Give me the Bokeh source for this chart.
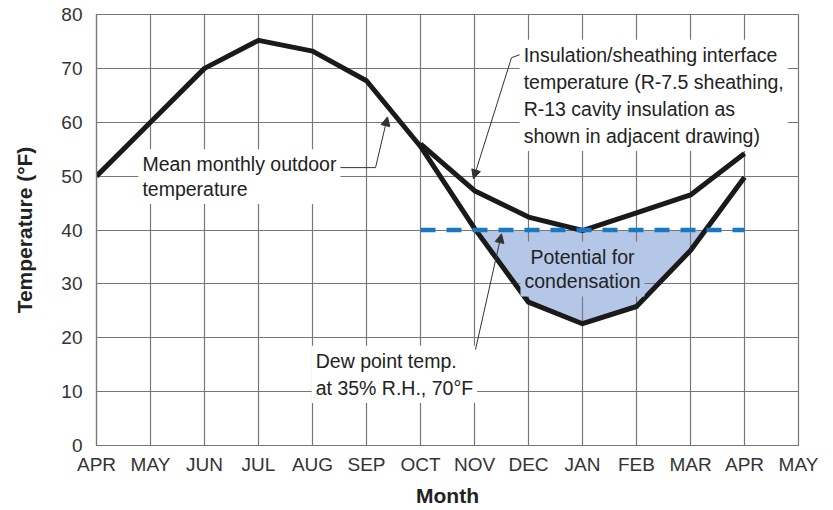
import numpy as np
from bokeh.plotting import figure
from bokeh.models import Label, Arrow, NormalHead, FixedTicker
from bokeh.embed import file_html
from bokeh.resources import INLINE

# ---- data ----
months = ["APR", "MAY", "JUN", "JUL", "AUG", "SEP", "OCT", "NOV", "DEC",
          "JAN", "FEB", "MAR", "APR", "MAY"]
month_x = list(range(len(months)))
y_ticks = [0, 10, 20, 30, 40, 50, 60, 70, 80]

outdoor_x = list(range(13))
outdoor = [50, 60, 70, 75.2, 73.2, 67.7, 55.5, 40.3, 26.6, 22.6, 25.8, 36.2, 49.8]

insul_x = [6, 7, 8, 9, 10, 11, 12]
insulation = [56, 47.3, 42.4, 39.9, 43.2, 46.5, 54.2]

dew_x = [6, 12]
dew_point = [40, 40]

FONT = "Liberation Sans"
TXT = "#222222"
GRID = "#777777"
FS = "19.5px"

p = figure(width=830, height=509, x_range=(0, 13), y_range=(0, 80),
           output_backend="svg", toolbar_location=None,
           min_border_left=96, min_border_top=14, min_border_right=32,
           min_border_bottom=64)
p.background_fill_color = "white"
p.border_fill_color = "white"
p.outline_line_color = GRID
p.outline_line_width = 1.2

# condensation fill (under the grid)
xf = np.linspace(dew_x[0], dew_x[1], 1201)
yf = np.interp(xf, outdoor_x, outdoor)
y_low = np.minimum(yf, dew_point[0])
p.varea(x=xf, y1=y_low, y2=dew_point[0], fill_color="#b5c7e7", level="image")

# axes and grid
p.xaxis.ticker = FixedTicker(ticks=month_x)
p.xaxis.major_label_overrides = {i: m for i, m in enumerate(months)}
p.yaxis.ticker = FixedTicker(ticks=y_ticks)
p.xgrid.ticker = FixedTicker(ticks=month_x)
p.ygrid.ticker = FixedTicker(ticks=y_ticks)
p.grid.grid_line_color = GRID
p.grid.grid_line_width = 1.2

for ax in (p.xaxis, p.yaxis):
    ax.axis_line_color = GRID
    ax.axis_line_width = 1.2
    ax.major_tick_line_color = None
    ax.minor_tick_line_color = None
    ax.major_label_text_font = FONT
    ax.major_label_text_font_size = "19px"
    ax.major_label_text_color = "#333333"
    ax.axis_label_text_font = FONT
    ax.axis_label_text_font_size = "21px"
    ax.axis_label_text_font_style = "bold"
    ax.axis_label_text_color = TXT

p.xaxis.axis_label = "Month"
p.yaxis.axis_label = "Temperature (°F)"
p.xaxis.major_label_standoff = 2
p.xaxis.axis_label_standoff = 6
p.yaxis.major_label_standoff = 8
p.yaxis.axis_label_standoff = 22

# curves
p.line(outdoor_x, outdoor, line_color="#1a1a1a", line_width=5, line_join="round")
p.line(insul_x, insulation, line_color="#1a1a1a", line_width=5, line_join="round")
p.line(dew_x, dew_point, line_color="#1a77c2", line_width=4.5, line_dash="15 11")

# annotations
def lab(x, y, text, bg="white", align="left", lh=1.2):
    return Label(x=x, y=y, x_units="data", y_units="data", text=text,
                 text_font=FONT, text_font_size=FS, text_color=TXT,
                 text_align=align, text_baseline="top", text_line_height=lh,
                 background_fill_color=bg, padding=4)

p.add_layout(lab(0.776, 55.0, "Mean monthly outdoor\ntemperature", lh=1.13))
p.add_layout(lab(7.836, 75.3, "Insulation/sheathing interface\ntemperature (R-7.5 sheathing,\nR-13 cavity insulation as\nshown in adjacent drawing)", lh=1.23))
p.add_layout(lab(9.0, 37.85, "Potential for\ncondensation", bg="#b5c7e7", align="center", lh=1.13))
p.add_layout(lab(3.986, 18.5, "Dew point temp.\nat 35% R.H., 70°F", lh=1.23))

LEAD = "#333333"
# leader: mean outdoor
p.line([4.5, 5.167], [51.58, 51.58], line_color=LEAD, line_width=1)
p.add_layout(Arrow(end=NormalHead(size=9, fill_color=LEAD, line_color=LEAD, line_width=1),
                   x_start=5.167, y_start=51.58, x_end=5.389, y_end=61.0,
                   line_color=LEAD, line_width=1))
# leader: insulation
p.line([7.889, 7.685], [72.73, 71.98], line_color=LEAD, line_width=1)
p.add_layout(Arrow(end=NormalHead(size=9, fill_color=LEAD, line_color=LEAD, line_width=1),
                   x_start=7.685, y_start=71.98, x_end=6.98, y_end=49.5,
                   line_color=LEAD, line_width=1))
# leader: dew point
p.line([6.778, 7.019], [17.81, 17.81], line_color=LEAD, line_width=1)
p.add_layout(Arrow(end=NormalHead(size=9, fill_color=LEAD, line_color=LEAD, line_width=1),
                   x_start=7.019, y_start=17.81, x_end=7.5, y_end=39.3,
                   line_color=LEAD, line_width=1))

open("out.html", "w").write(file_html(p, INLINE))
